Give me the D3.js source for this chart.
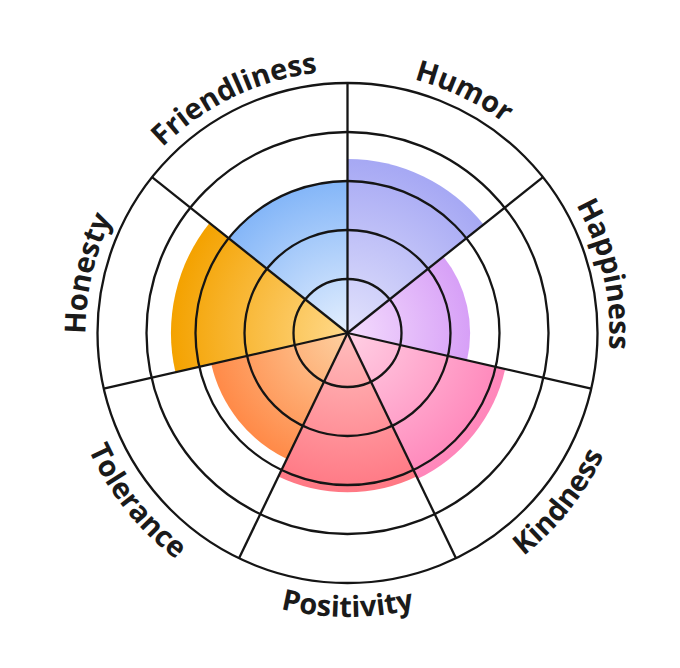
<!DOCTYPE html>
<html>
<head>
<meta charset="utf-8">
<script src="https://cdn.jsdelivr.net/npm/d3@7"></script>
<style>
  body { margin: 0; background: #fff; }
  svg { display: block; }
</style>
</head>
<body>
<div id="chart"></div>
<script>
// categories go clockwise, starting at 12 o'clock
var categories = ["Humor", "Happiness", "Kindness", "Positivity", "Tolerance", "Honesty", "Friendliness"];
var values = [3.45, 2.4, 3.2, 3.15, 2.75, 3.5, 3.0];
var ringTicks = [1, 2, 3, 4, 5];
var innerColors = ["#e2e2fc", "#f4dcfd", "#ffd0e4", "#ffbdbd", "#fdd0a0", "#ffd98a", "#e4effe"];
var outerColors = ["#a6a8f4", "#d7a0f7", "#ff86ba", "#ff7884", "#ff8a48", "#f4a200", "#84b6f8"];

var width = 680, height = 668;
var cx = 347.5, cy = 333;
var n = categories.length;

var svg = d3.select("#chart").append("svg")
  .attr("width", width)
  .attr("height", height);

var r = d3.scaleLinear().domain([0, 5]).range([5, 250]);
var angle = d3.scaleLinear().domain([0, n]).range([0, 2 * Math.PI]);

var defs = svg.append("defs");
var g = svg.append("g").attr("transform", "translate(" + cx + "," + cy + ")");

// gradients, one per sector, pale at the centre
categories.forEach(function(c, i) {
  var grad = defs.append("radialGradient")
    .attr("id", "grad" + i)
    .attr("gradientUnits", "userSpaceOnUse")
    .attr("cx", 0).attr("cy", 0).attr("r", r(values[i]));
  grad.append("stop").attr("offset", "0%").attr("stop-color", innerColors[i]);
  grad.append("stop").attr("offset", "100%").attr("stop-color", outerColors[i]);
});

var arc = d3.arc()
  .innerRadius(0)
  .outerRadius(function(d) { return r(d.value); })
  .startAngle(function(d) { return angle(d.i); })
  .endAngle(function(d) { return angle(d.i + 1); });

var data = categories.map(function(c, i) { return { name: c, value: values[i], i: i }; });

g.append("g").selectAll("path")
  .data(data)
  .enter().append("path")
  .attr("d", arc)
  .attr("fill", function(d) { return "url(#grad" + d.i + ")"; });

// rings
g.append("g").selectAll("circle")
  .data(ringTicks)
  .enter().append("circle")
  .attr("r", function(d) { return r(d); })
  .attr("fill", "none")
  .attr("stroke", "#151515")
  .attr("stroke-width", 2.3);

// spokes
g.append("g").selectAll("line")
  .data(d3.range(n))
  .enter().append("line")
  .attr("x1", 0).attr("y1", 0)
  .attr("x2", function(d) { return Math.sin(angle(d)) * r(5); })
  .attr("y2", function(d) { return -Math.cos(angle(d)) * r(5); })
  .attr("stroke", "#151515")
  .attr("stroke-width", 2.3);

// curved labels, top half reads clockwise, bottom half counter-clockwise
var outwardR = 262, inwardR = 284;
function labelPath(i) {
  var mid = angle(i + 0.5);
  var half = 1.1;
  var inward = mid > Math.PI / 2 && mid < 3 * Math.PI / 2;
  var rad = inward ? inwardR : outwardR;
  var a0 = inward ? mid + half : mid - half;
  var a1 = inward ? mid - half : mid + half;
  var x0 = Math.sin(a0) * rad, y0 = -Math.cos(a0) * rad;
  var x1 = Math.sin(a1) * rad, y1 = -Math.cos(a1) * rad;
  return "M" + x0 + "," + y0 + " A" + rad + "," + rad + " 0 0," + (inward ? 0 : 1) + " " + x1 + "," + y1;
}

categories.forEach(function(c, i) {
  defs.append("path").attr("id", "lp" + i).attr("d", labelPath(i));
});

g.append("g").selectAll("text")
  .data(data)
  .enter().append("text")
  .attr("font-family", "'Open Sans', sans-serif")
  .attr("font-weight", 700)
  .attr("font-size", 29)
  .attr("fill", "#1a1a1a")
  .append("textPath")
  .attr("href", function(d) { return "#lp" + d.i; })
  .attr("startOffset", "50%")
  .attr("text-anchor", "middle")
  .text(function(d) { return d.name; });
</script>
</body>
</html>
